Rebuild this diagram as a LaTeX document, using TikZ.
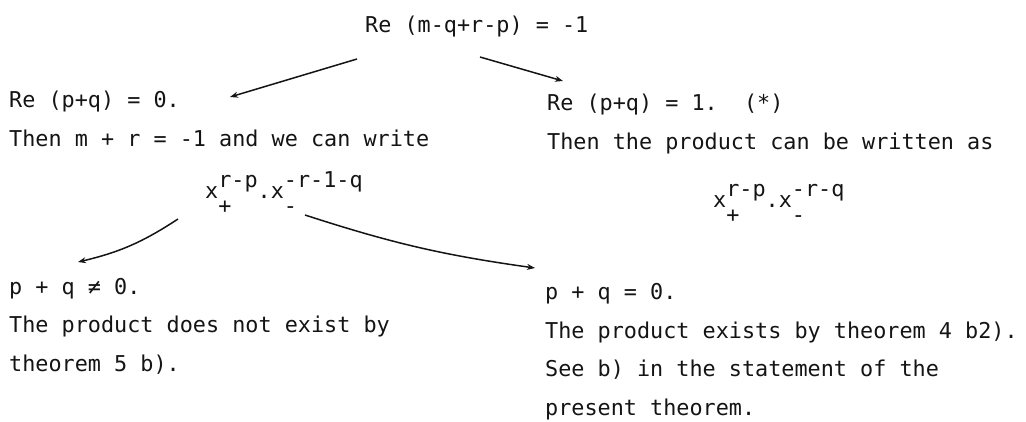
\documentclass[tikz,border=0pt]{standalone}
\usepackage{fontspec}
\setmonofont{DejaVu Sans Mono}
\usepackage{tikz}
\usetikzlibrary{arrows.meta,calc}
\usepackage{xcolor}
\definecolor{Ink}{HTML}{141414}
\frenchspacing
% exponente y subíndice apilados, como en la máquina de escribir
\newcommand{\expo}[2]{\setbox0\hbox{#1}\rlap{\raisebox{11pt}{#1}}\hbox to \wd0{\raisebox{-15pt}{#2}\hss}}

\begin{document}
\begin{tikzpicture}[x=1pt,y=-1pt,>={Stealth[length=8pt,width=6pt]},
  txt/.style={anchor=base west,inner sep=0pt,align=left,Ink,
    font=\ttfamily\fontsize{21.8pt}{38.5pt}\selectfont},
  conn/.style={->,line width=1.5pt,Ink}]
  \useasboundingbox (0,0) rectangle (1026,421);

  % Condición de partida (el ancla base es la de la última línea).
  \node[txt] (cond) at (365,32) {Re (m-q+r-p) = -1};

  % Rama izquierda: Re (p+q) = 0.
  \node[txt] (lzero) at (9,146) {Re (p+q) = 0.\\Then m + r = -1 and we can write};
  \node[txt] (lprod) at (205,198) {x\expo{r-p}{+}.x\expo{-r-1-q}{-}};
  \node[txt] (lnot) at (9,371) {p + q ≠ 0.\\The product does not exist by\\theorem 5 b).};
  \node[txt] (lyes) at (545,415) {p + q = 0.\\The product exists by theorem 4 b2).\\See b) in the statement of the\\present theorem.};

  % Rama derecha: Re (p+q) = 1.
  \node[txt] (rone) at (547,149) {Re (p+q) = 1.~~(*)\\Then the product can be written as};
  \node[txt] (rprod) at (713,207) {x\expo{r-p}{+}.x\expo{-r-q}{-}};

  % Extremos de las flechas.
  \coordinate (c1) at (357,59);  \coordinate (l1) at (230,97);
  \coordinate (c2) at (480,57);  \coordinate (r1) at (563,81);
  \coordinate (p1) at (178,219); \coordinate (n1) at (78,262);
  \coordinate (p2) at (305,215); \coordinate (y1) at (535,268);

  \draw[conn] (c1) -- (l1);
  \draw[conn] (c2) -- (r1);
  \draw[conn] (p1) to[bend left=10] (n1);
  \draw[conn] (p2) to[bend right=5] (y1);
\end{tikzpicture}
\end{document}
